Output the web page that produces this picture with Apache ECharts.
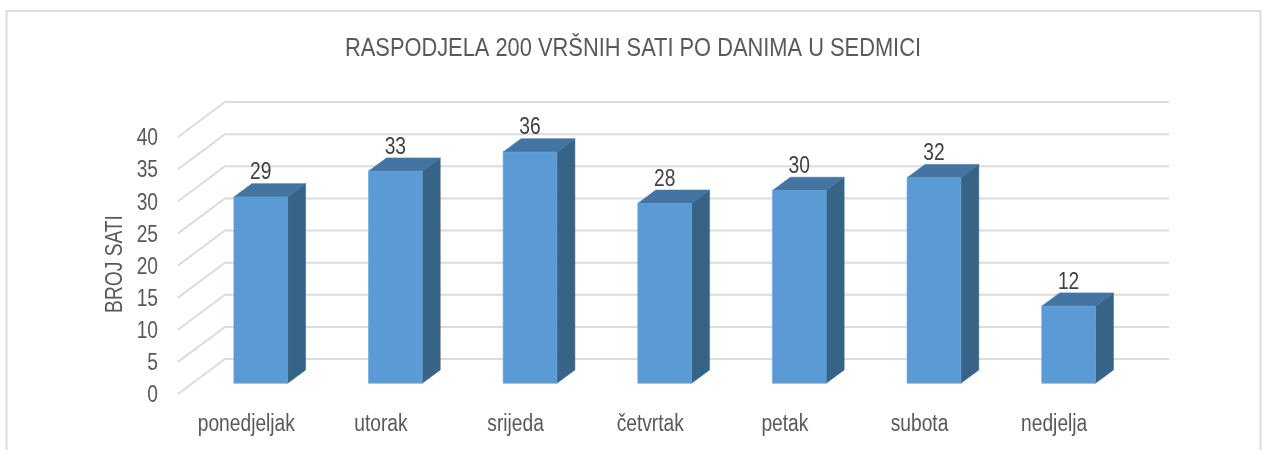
<!DOCTYPE html>
<html><head><meta charset="utf-8">
<style>html,body{margin:0;padding:0;background:#fff}#c{width:1263px;height:450px}</style>
<script src="https://cdn.jsdelivr.net/npm/echarts@6/dist/echarts.min.js"></script></head>
<body><div id="c"></div>
<script>
const categories = ['ponedjeljak','utorak','srijeda','četvrtak','petak','subota','nedjelja'];
const values = [29,33,36,28,30,32,12];
const yTicks = [0,5,10,15,20,25,30,35,40];
const titleText = 'RASPODJELA 200 VRŠNIH SATI PO DANIMA U SEDMICI';
const yName = 'BROJ SATI';
const FONT = '"Liberation Sans",Arial,sans-serif';
const WALL = [47,35], BAR_OFF = [15.4,10.7], BAR_DEPTH = [18,13.3], BAR_RATIO = 0.399, SQUEEZE = 0.835;
function txt(text,x,y,size,fill,align,extra){
  return Object.assign({type:'text',x:x,y:y,scaleX:SQUEEZE,
    style:{text:text,x:0,y:0,align:align||'center',verticalAlign:'middle',font:size+'px '+FONT,fill:fill}},extra||{});
}
const chart = echarts.init(document.getElementById('c'),null,{renderer:'canvas'});
chart.setOption({
  backgroundColor:'#fff',
  animation:false,
  graphic:[
    {type:'rect',silent:true,z:-10,shape:{x:6.5,y:11,width:1254,height:460},style:{fill:'#fff',stroke:'#dcdcdc',lineWidth:2}},
    Object.assign(txt(titleText,633,49,26,'#595959'),{silent:true,scaleX:0.84}),
    txt(yName,116,264,23,'#595959','center',{rotation:Math.PI/2,silent:true})
  ],
  grid:{left:178,top:137,width:942.5,height:257},
  xAxis:{type:'category',data:categories,axisLine:{show:false},axisTick:{show:false},axisLabel:{show:false}},
  yAxis:{type:'value',min:0,max:40,interval:5,axisLine:{show:false},axisTick:{show:false},splitLine:{show:false},axisLabel:{show:false}},
  series:[
    {type:'custom',silent:true,z:1,data:yTicks.map(v=>[0,v]),encode:{x:0,y:1},clip:false,
     renderItem(params,api){
       const v=api.value(1), p=api.coord([0,v]), c=params.coordSys, y=p[1], x=c.x;
       return {type:'group',children:[
         {type:'polyline',shape:{points:[[x,y],[x+WALL[0],y-WALL[1]],[x+WALL[0]+c.width+1.5,y-WALL[1]]]},
           style:{fill:null,stroke:'#dcdcdc',lineWidth:2}},
         txt(String(v),158,y+2,23,'#595959','right')
       ]};
     }},
    {type:'custom',silent:true,z:2,data:categories.map((n,i)=>[i,0]),encode:{x:0,y:1},clip:false,
     renderItem(params,api){
       const i=api.value(0), p=api.coord([i,0]);
       return txt(categories[i],p[0]+1,p[1]+31,23,'#595959');
     }},
    {type:'custom',silent:true,z:3,data:values.map((v,i)=>[i,v]),encode:{x:0,y:1},clip:false,
     renderItem(params,api){
       const top=api.coord([api.value(0),api.value(1)]), base=api.coord([api.value(0),0]);
       const w=api.size([1,0])[0]*BAR_RATIO;
       const l=top[0]-w/2+BAR_OFF[0], r=l+w, t=top[1]-BAR_OFF[1], b=base[1]-BAR_OFF[1];
       const dx=BAR_DEPTH[0], dy=BAR_DEPTH[1];
       return {type:'group',children:[
         {type:'polygon',shape:{points:[[r,t],[r+dx,t-dy],[r+dx,b-dy],[r,b]]},style:{fill:'#376387',stroke:'#3d6d94',lineWidth:0.6}},
         {type:'polygon',shape:{points:[[l,t],[l+dx,t-dy],[r+dx,t-dy],[r,t]]},style:{fill:'#4374a2',stroke:'#4374a2',lineWidth:0.6}},
         {type:'rect',shape:{x:l,y:t,width:w,height:b-t},style:{fill:'#5b9bd5',stroke:'#6aa5da',lineWidth:0.6}},
         txt(String(api.value(1)),(l+r)/2,t-24,23,'#404040')
       ]};
     }}
  ]
});
</script></body></html>
